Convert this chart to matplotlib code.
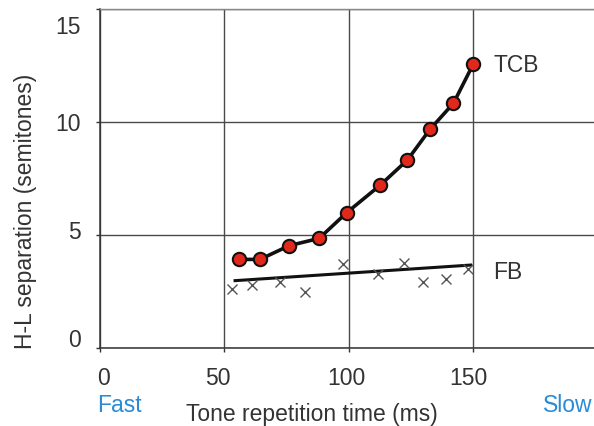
import matplotlib
matplotlib.use("Agg")
import matplotlib.pyplot as plt
from matplotlib.transforms import ScaledTranslation

plt.rcParams['font.family'] = ['Liberation Sans', 'DejaVu Sans']

# Data
tcb_x = [55.9, 64.3, 76.1, 88.1, 99.2, 112.6, 123.6, 132.7, 142.1, 150.1]
tcb_y = [3.92, 3.92, 4.53, 4.85, 5.99, 7.20, 8.32, 9.68, 10.83, 12.57]
fb_x = [53.0, 61.0, 72.4, 82.4, 97.6, 111.9, 122.2, 129.8, 139.0, 148.1]
fb_y = [2.60, 2.79, 2.93, 2.46, 3.70, 3.26, 3.75, 2.93, 3.04, 3.48]
fb_fit_x = [54.3, 149.0]
fb_fit_y = [2.98, 3.67]
x_ticks = [0, 50, 100, 150]
y_ticks = [0, 5, 10, 15]

TXT = '#333333'
BLUE = '#2a8bd6'

fig = plt.figure(figsize=(5.94, 4.26), dpi=100)
ax = fig.add_axes([100/594, 78/426, 494/594, 339/426])
ax.set_xlim(0, 198.6)
ax.set_ylim(0, 15)

ax.set_xticks(x_ticks)
ax.set_yticks(y_ticks)
ax.tick_params(axis='both', labelsize=16.5, labelcolor=TXT, color='#333333',
               length=3, width=1, direction='out', pad=11)
ax.grid(True, color='#4a4a4a', linewidth=1.0)
ax.set_axisbelow(True)

# small label shifts as in the reference (pixels)
y_shift = [10, 5, 0, -16]
x_shift = [3, -7, -2.5, -5]
for tick, dy in zip(ax.yaxis.get_major_ticks(), y_shift):
    tick.label1.set_transform(tick.label1.get_transform() +
                              ScaledTranslation(0, dy / 100, fig.dpi_scale_trans))
for tick, dx in zip(ax.xaxis.get_major_ticks(), x_shift):
    tick.label1.set_transform(tick.label1.get_transform() +
                              ScaledTranslation(dx / 100, 0, fig.dpi_scale_trans))

for s in ['left', 'bottom']:
    ax.spines[s].set_color('#333333')
    ax.spines[s].set_linewidth(1.1)
ax.spines['right'].set_visible(False)
ax.spines['top'].set_color('#888888')
ax.spines['top'].set_linewidth(1.0)

# FB
ax.plot(fb_fit_x, fb_fit_y, color='#111111', linewidth=2.2, zorder=3)
ax.plot(fb_x, fb_y, linestyle='none', marker='x', color='#555555',
        markersize=6.5, markeredgewidth=1.0, zorder=4)

# TCB
ax.plot(tcb_x, tcb_y, color='#111111', linewidth=2.6, zorder=5,
        marker='o', markersize=9.6, markerfacecolor='#e0281b',
        markeredgecolor='#111111', markeredgewidth=1.5)

ax.text(158, 12.52, 'TCB', fontsize=16.5, color=TXT, va='center', ha='left')
ax.text(158, 3.32, 'FB', fontsize=16.5, color=TXT, va='center', ha='left')

fig.text(26/594, 1 - 211/426, 'H-L separation (semitones)', rotation=90,
         fontsize=16.5, color=TXT, ha='center', va='center')
fig.text(312/594, 1 - 415/426, 'Tone repetition time (ms)',
         fontsize=16.5, color=TXT, ha='center', va='center')
fig.text(97/594, 1 - 405/426, 'Fast', fontsize=16.5, color=BLUE,
         ha='left', va='center')
fig.text(592/594, 1 - 405/426, 'Slow', fontsize=16.5, color=BLUE,
         ha='right', va='center')

fig.savefig('out.png', dpi=100)
